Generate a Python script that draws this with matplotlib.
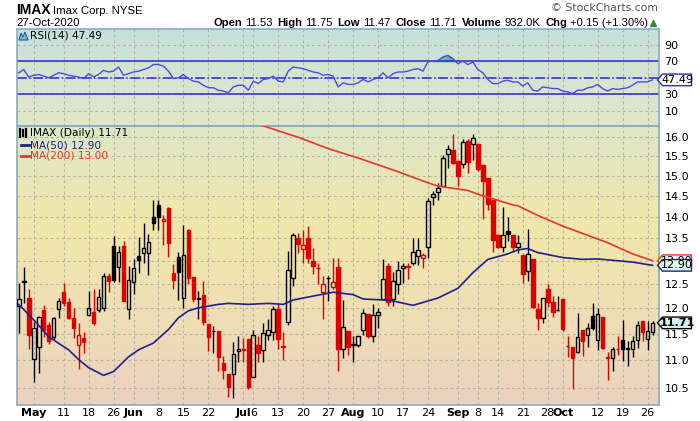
import numpy as np
import pandas as pd
import matplotlib
matplotlib.use("Agg")
import matplotlib.pyplot as plt
from matplotlib.colors import LinearSegmentedColormap
from matplotlib.patches import Polygon
from matplotlib.lines import Line2D
from matplotlib.ticker import NullLocator
from matplotlib.transforms import IdentityTransform

W, H = 700, 421

# ── Data ─────────────────────────────────────────────────────
holidays = ["2020-05-25", "2020-07-03", "2020-09-07"]
dates = pd.bdate_range("2020-04-28", "2020-10-27")
dates = dates[~dates.isin(pd.to_datetime(holidays))]

opens = [12.05, 12.56, 12.20, 11.02, 11.24, 11.97, 11.67, 11.44, 11.98, 12.34,
         12.13, 11.81, 11.29, 11.42, 11.86, 11.93, 11.97, 12.00, 12.68, 13.33,
         12.87, 13.33, 11.98, 12.55, 13.10, 13.16, 13.16, 13.99, 14.27, 13.89,
         14.21, 12.73, 13.08, 12.20, 13.68, 12.64, 12.20, 12.28, 11.69, 11.56,
         11.55, 10.94, 10.74, 10.75, 11.17, 11.20, 11.40, 10.69, 11.29, 11.19,
         11.47, 11.53, 11.99, 11.26, 11.73, 12.62, 13.50, 13.27, 13.50, 12.99,
         12.85, 12.34, 12.63, 12.43, 12.86, 11.21, 11.55, 11.28, 11.29, 11.58,
         11.88, 11.46, 11.86, 12.19, 12.88, 12.19, 12.50, 12.84, 12.88, 12.96,
         13.10, 13.07, 13.31, 14.46, 14.60, 14.75, 15.55, 15.66, 15.37, 15.30,
         15.90, 15.81, 15.82, 15.28, 14.95, 14.40, 13.57, 13.31, 13.67, 13.58,
         13.30, 13.13, 12.77, 13.03, 11.98, 11.80, 12.40, 12.13, 11.97, 12.19,
         11.27, 11.25, 11.15, 11.57, 11.48, 11.84, 11.37, 11.83, 11.05, 11.03,
         11.21, 11.37, 11.20, 11.20, 11.38, 11.75, 11.40, 11.53]
highs = [12.52, 12.87, 12.39, 11.72, 11.85, 12.07, 11.72, 11.82, 12.20, 12.53,
         12.20, 12.00, 11.70, 11.53, 12.35, 12.39, 12.39, 12.73, 12.73, 13.56,
         13.33, 13.45, 12.88, 13.03, 13.52, 13.85, 13.60, 14.40, 14.40, 14.03,
         14.22, 12.92, 13.19, 13.81, 13.72, 12.64, 12.36, 12.57, 11.69, 11.64,
         11.55, 11.08, 10.74, 11.33, 11.45, 11.42, 11.40, 11.58, 11.46, 11.70,
         11.78, 12.05, 12.11, 11.53, 13.22, 13.63, 13.63, 13.69, 13.78, 13.28,
         12.96, 12.66, 12.68, 13.05, 13.05, 12.17, 11.55, 11.45, 11.46, 11.99,
         11.88, 12.08, 12.01, 13.03, 12.96, 12.76, 12.99, 12.96, 12.96, 13.51,
         13.50, 13.17, 14.44, 14.62, 14.81, 15.53, 15.79, 16.08, 15.37, 15.95,
         15.95, 16.10, 15.83, 15.28, 14.95, 14.40, 13.60, 14.23, 14.00, 13.58,
         13.58, 13.13, 13.71, 13.03, 12.11, 12.22, 12.50, 12.25, 12.25, 12.19,
         11.46, 11.25, 11.90, 11.57, 11.71, 12.11, 12.01, 11.83, 11.15, 11.25,
         11.46, 11.76, 11.36, 11.46, 11.75, 11.75, 11.75, 11.75]
lows = [11.51, 12.11, 11.20, 10.60, 10.76, 11.44, 11.30, 11.38, 11.81, 12.05,
        11.78, 11.42, 10.83, 11.14, 11.85, 11.67, 11.93, 11.95, 12.33, 12.54,
        12.55, 12.14, 11.79, 12.30, 12.73, 12.96, 12.70, 13.68, 13.68, 13.34,
        13.09, 12.39, 12.16, 12.01, 12.51, 12.13, 11.79, 11.66, 11.17, 11.13,
        10.80, 10.65, 10.33, 10.32, 10.97, 10.97, 10.48, 10.69, 10.96, 10.96,
        11.37, 11.38, 11.20, 11.00, 11.67, 12.45, 13.17, 12.96, 12.96, 12.71,
        12.51, 11.79, 12.15, 12.40, 10.80, 11.03, 11.09, 10.96, 11.25, 11.48,
        11.42, 11.33, 11.61, 12.19, 12.05, 12.05, 12.30, 12.53, 12.60, 12.90,
        12.90, 12.84, 13.07, 14.28, 14.40, 14.73, 15.20, 15.30, 14.75, 15.20,
        15.06, 15.40, 15.13, 13.94, 14.15, 13.20, 13.28, 13.20, 13.43, 13.20,
        13.16, 12.52, 12.57, 12.01, 11.58, 11.70, 12.03, 11.83, 11.95, 11.56,
        11.06, 10.48, 11.13, 11.08, 11.25, 11.58, 11.19, 11.21, 10.64, 10.80,
        11.10, 10.99, 10.89, 11.06, 11.22, 11.36, 11.19, 11.47]
closes = [12.18, 12.55, 11.47, 11.60, 11.83, 11.58, 11.35, 11.80, 12.15, 12.11,
          11.80, 11.61, 11.48, 11.34, 12.00, 11.70, 12.24, 12.68, 12.57, 12.59,
          13.20, 12.15, 12.59, 12.84, 13.01, 13.28, 13.42, 13.86, 14.00, 13.94,
          13.40, 12.58, 12.75, 13.12, 12.63, 12.18, 12.19, 11.72, 11.44, 11.55,
          11.06, 10.82, 10.52, 11.11, 11.21, 11.19, 10.52, 11.48, 11.14, 11.52,
          11.58, 11.98, 11.40, 11.25, 12.80, 13.57, 13.38, 13.35, 13.05, 12.88,
          12.84, 12.50, 12.62, 12.55, 11.20, 11.62, 11.25, 11.31, 11.46, 11.90,
          11.45, 11.86, 11.93, 12.60, 12.13, 12.56, 12.79, 12.88, 12.87, 13.19,
          13.24, 13.13, 14.38, 14.54, 14.69, 15.44, 15.69, 15.32, 14.98, 15.88,
          15.35, 15.97, 15.16, 14.87, 14.29, 13.46, 13.30, 13.57, 13.59, 13.31,
          13.39, 12.72, 13.14, 12.03, 11.80, 12.22, 12.13, 11.93, 11.96, 11.59,
          11.26, 11.03, 11.43, 11.35, 11.60, 11.61, 11.88, 11.22, 11.04, 11.21,
          11.20, 11.21, 11.22, 11.36, 11.66, 11.53, 11.56, 11.71]

ma50_idx = [0, 3, 6, 10, 12, 14, 17, 19, 22, 24, 27, 30, 32, 34, 36, 40, 42, 46,
            50, 53, 55, 58, 63, 67, 69, 73, 75, 79, 84, 88, 91, 94, 98, 100, 102,
            104, 109, 113, 116, 119, 123, 127]
ma50_val = [12.08, 11.77, 11.44, 11.19, 11.01, 10.86, 10.72, 10.79, 11.06, 11.19,
            11.32, 11.58, 11.81, 11.95, 12.01, 12.08, 12.10, 12.08, 12.10, 12.08,
            12.17, 12.23, 12.33, 12.28, 12.19, 12.17, 12.15, 12.06, 12.21, 12.41,
            12.74, 13.03, 13.15, 13.24, 13.27, 13.18, 13.07, 13.03, 13.04, 13.01,
            12.97, 12.90]

ma200_idx = [45, 49, 56, 62, 69, 76, 82, 84, 90, 92, 99, 100, 104, 109, 113, 118,
             123, 127]
ma200_val = [16.55, 16.31, 16.00, 15.70, 15.41, 15.10, 14.82, 14.74, 14.63, 14.54,
             14.28, 14.26, 14.03, 13.78, 13.61, 13.40, 13.15, 13.00]

rsi = [56, 60, 51, 53, 54, 52, 50, 53, 56, 55,
       53, 52, 51, 49, 55, 51, 54, 59, 57, 58,
       63, 53, 55, 57, 58, 60, 62, 66, 66, 64,
       58, 49, 50, 54, 49, 46, 45, 41, 38, 38,
       35, 34, 32, 39, 41, 41, 35, 46, 43, 48,
       49, 52, 46, 45, 58, 63, 62, 61, 59, 57,
       56, 53, 54, 52, 39, 44, 42, 42, 44, 48,
       45, 48, 50, 56, 50, 55, 57, 57, 58, 60,
       61, 58, 69.5, 70, 71, 75, 77, 73, 67, 70,
       66, 69, 60, 56, 48, 43, 43, 46, 47, 45,
       45, 40, 44, 35, 34, 39, 38, 37, 37, 34,
       33, 31, 35, 35, 38, 39, 42, 37, 34, 37,
       36, 37, 38, 41, 45, 45, 45, 47.49]

tick_dates = ["2020-05-01", "2020-05-11", "2020-05-18", "2020-05-26", "2020-06-01",
              "2020-06-08", "2020-06-15", "2020-06-22", "2020-07-01", "2020-07-06",
              "2020-07-13", "2020-07-20", "2020-07-27", "2020-08-03", "2020-08-10",
              "2020-08-17", "2020-08-24", "2020-09-01", "2020-09-08", "2020-09-14",
              "2020-09-21", "2020-09-28", "2020-10-01", "2020-10-12", "2020-10-19",
              "2020-10-26"]
tick_labels = ["May", "11", "18", "26", "Jun", "8", "15", "22", "Jul", "6", "13",
               "20", "27", "Aug", "10", "17", "24", "Sep", "8", "14", "21", "28",
               "Oct", "12", "19", "26"]

# ── Colours ──────────────────────────────────────────────────
RED = "#e00000"
NAVY = "#1f1f8f"
MA200_RED = "#e8352c"
RSI_BLUE = "#4b4be0"
LINE_BLUE = "#2a2acc"
BORDER = "#8eaabb"
GRID = "#b4b4a4"

fig = plt.figure(figsize=(W / 100, H / 100), dpi=100)
fig.patch.set_facecolor("white")


def rect(x0, y0, x1, y1):
    return [x0 / W, 1 - y1 / H, (x1 - x0) / W, (y1 - y0) / H]


def P(x, y):
    return x / W, 1 - y / H


def gradient(r, colors):
    bg = fig.add_axes(r, zorder=0)
    cmap = LinearSegmentedColormap.from_list("bg", colors)
    bg.imshow(np.linspace(0, 1, 256).reshape(-1, 1), cmap=cmap, aspect="auto",
              extent=[0, 1, 0, 1], origin="upper")
    bg.axis("off")


rsi_rect = rect(17, 29, 659, 126)
px_rect = rect(17, 126, 659, 405)
gradient(rsi_rect, ["#c4e1dc", "#d6e5d2", "#e0e7c6"])
gradient(px_rect, [(0, "#dde6c8"), (0.35, "#f1e7aa"), (0.65, "#efdfb4"), (1, "#ebd2bf")])

ax_rsi = fig.add_axes(rsi_rect, zorder=1)
ax = fig.add_axes(px_rect, zorder=1, sharex=ax_rsi)
for a in (ax, ax_rsi):
    a.patch.set_alpha(0)
    for s in a.spines.values():
        s.set_color(BORDER)
        s.set_linewidth(1.2)

idx = np.arange(len(closes))
tick_pos = [dates.get_loc(pd.Timestamp(d)) for d in tick_dates]

# ── Price panel ──────────────────────────────────────────────
ax.set_yscale("log")
ax.set_ylim(10.199, 16.307)
ax.set_xlim(-0.35, 128.3)

o = np.array(opens)
hi = np.array(highs)
lo = np.array(lows)
c = np.array(closes)
prev = np.r_[c[0] - 1, c[:-1]]
col = np.where(c >= prev, "black", RED)
filled = c < o
top = np.maximum(o, c)
bot = np.minimum(o, c)

ax.vlines(idx, top, hi, colors=col, linewidth=1, zorder=3)
ax.vlines(idx, lo, bot, colors=col, linewidth=1, zorder=3)
ax.bar(idx, np.maximum(top - bot, 0.004), bottom=bot, width=0.72,
       color=[cc if f else "none" for cc, f in zip(col, filled)],
       edgecolor=col, linewidth=1, zorder=4)

ax.plot(ma50_idx, ma50_val, color=NAVY, linewidth=1.2, zorder=5)
ax.plot(ma200_idx, ma200_val, color=MA200_RED, linewidth=1.2, zorder=5)

price_ticks = np.arange(10.5, 16.01, 0.5)
ax.yaxis.set_minor_locator(NullLocator())
ax.set_yticks(price_ticks)
ax.set_yticklabels([f"{t:.1f}" for t in price_ticks])
ax.yaxis.tick_right()
ax.tick_params(axis="y", length=0, pad=4, labelsize=8)
ax.set_xticks(tick_pos)
ax.set_xticklabels(tick_labels)
ax.tick_params(axis="x", length=0, pad=2, labelsize=8)
for lbl in ax.get_xticklabels():
    if lbl.get_text().isalpha():
        lbl.set_fontweight("bold")
ax.grid(True, color=GRID, linestyle=(0, (2.5, 2.5)), linewidth=0.8, zorder=1)

# ── RSI panel ────────────────────────────────────────────────
r = np.array(rsi, dtype=float)
ax_rsi.set_ylim(-8.1, 108.8)
ax_rsi.fill_between(idx, 70, r, where=r > 70, interpolate=True,
                    color="#62b3a8", zorder=2)
ax_rsi.axhline(70, color=LINE_BLUE, linewidth=1.1, zorder=2)
ax_rsi.axhline(30, color=LINE_BLUE, linewidth=1.1, zorder=2)
ax_rsi.axhline(50, color=LINE_BLUE, linewidth=1.1, linestyle="-.", zorder=2)
ax_rsi.plot(idx, r, color=RSI_BLUE, linewidth=1, zorder=3)
ax_rsi.set_yticks([10, 30, 50, 70, 90])
ax_rsi.yaxis.tick_right()
ax_rsi.tick_params(axis="y", length=0, pad=4, labelsize=8)
ax_rsi.tick_params(axis="x", length=0, labelbottom=False)
ax_rsi.grid(True, color=GRID, linestyle=(0, (2.5, 2.5)), linewidth=0.8, zorder=1)

# ── Header ───────────────────────────────────────────────────
hdr = "Liberation Sans"
fig.text(*P(16, 13.5), "IMAX", fontsize=10, fontweight="bold", family=hdr, va="baseline")
fig.text(*P(53, 13.5), "Imax Corp. NYSE", fontsize=8.2, family=hdr, va="baseline")
fig.text(*P(16, 26), "27-Oct-2020", fontsize=8.2, family=hdr, va="baseline")
fig.text(*P(658, 11), "\u00a9 StockCharts.com", fontsize=7.8, color="#555555",
         ha="right", va="baseline")

# info line, chained left to right
info = [("Open", True), ("11.53", False), ("High", True), ("11.75", False),
        ("Low", True), ("11.47", False), ("Close", True), ("11.71", False),
        ("Volume", True), ("932.0K", False), ("Chg", True), ("+0.15 (+1.30%)", False)]
chain = fig.text(*P(213, 26), info[0][0], fontsize=8.1, fontweight="bold",
                 family=hdr, va="baseline")
for s, b in info[1:]:
    gap = 5 if b else 3
    chain = ax.annotate(s, xy=(1, 0), xycoords=chain, xytext=(gap, 0),
                        textcoords="offset pixels", va="bottom", ha="left",
                        fontsize=8.1, fontweight="bold" if b else "normal",
                        family=hdr, annotation_clip=False)
fig.add_artist(Line2D([653 / W], [1 - 22.5 / H], marker="^", color="#2e8b2e",
                      markersize=5, transform=fig.transFigure))

# ── Panel legends ────────────────────────────────────────────
lf = "DejaVu Sans"
fig.text(*P(30, 35.5), "RSI(14) 47.49", fontsize=7.6, family=lf, va="center")
fig.add_artist(Polygon([P(19, 40), P(21, 33), P(23, 37), P(25, 32), P(28, 40)],
                       closed=True, fc="#6cc0c8", ec="#3050c0", lw=0.8,
                       transform=fig.transFigure))
fig.text(*P(30, 133), "IMAX (Daily) 11.71", fontsize=7.6, family=lf, va="center")
for xx, y0, y1 in [(20, 129, 137), (23, 130, 136), (26, 129, 137)]:
    fig.add_artist(Line2D([xx / W, xx / W], [1 - y0 / H, 1 - y1 / H], color="black",
                          linewidth=1.6, transform=fig.transFigure))
fig.text(*P(30, 145), "MA(50) 12.90", fontsize=7.6, family=lf, color=NAVY, va="center")
fig.add_artist(Line2D([21 / W, 29 / W], [1 - 145 / H] * 2, color=NAVY, linewidth=2,
                      transform=fig.transFigure))
fig.text(*P(30, 156), "MA(200) 13.00", fontsize=7.6, family=lf, color=MA200_RED,
         va="center")
fig.add_artist(Line2D([21 / W, 29 / W], [1 - 156 / H] * 2, color=MA200_RED,
                      linewidth=2, transform=fig.transFigure))


# ── Value tags on the right axis ─────────────────────────────
def tag(a, value, text, ec, fc, z, bold=False):
    yd = a.transData.transform((0, value))[1]
    x0 = 657.5
    h = 5.8
    pts = [(x0, yd), (x0 + 5, yd + h), (x0 + 34, yd + h), (x0 + 34, yd - h),
           (x0 + 5, yd - h)]
    fig.add_artist(Polygon(pts, closed=True, transform=IdentityTransform(), fc=fc,
                           ec=ec, lw=1, zorder=z))
    fig.text(x0 + 19.5, yd, text, transform=IdentityTransform(), ha="center",
             va="center", fontsize=8, fontweight="bold" if bold else "normal",
             zorder=z + 0.5)


tag(ax_rsi, rsi[-1], f"{rsi[-1]:.2f}", LINE_BLUE, "white", 10)
tag(ax, ma200_val[-1], f"{ma200_val[-1]:.2f}", MA200_RED, "#eef8f8", 11)
tag(ax, ma50_val[-1], f"{ma50_val[-1]:.2f}", NAVY, "#dff3f3", 12)
tag(ax, closes[-1], f"{closes[-1]:.2f}", "black", "#d4f0ee", 13, bold=True)

fig.savefig("out.png", dpi=100)
